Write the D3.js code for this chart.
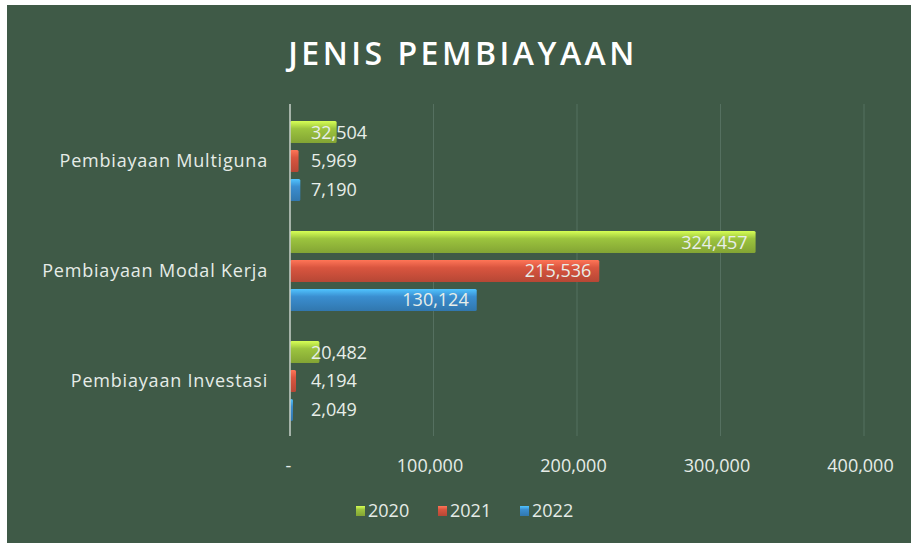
<!DOCTYPE html>
<html>
<head>
<meta charset="utf-8">
<script src="https://cdn.jsdelivr.net/npm/d3@7"></script>
<style>
  body { margin: 0; background: #ffffff; }
  svg text { font-family: "Open Sans", Lato, sans-serif; }
</style>
</head>
<body>
<svg width="911" height="543"></svg>
<script>
var categories = ["Pembiayaan Multiguna", "Pembiayaan Modal Kerja", "Pembiayaan Investasi"];
var years = ["2020", "2021", "2022"];
var values2020 = [32504, 324457, 20482];
var values2021 = [5969, 215536, 4194];
var values2022 = [7190, 130124, 2049];
var xTicks = [0, 100000, 200000, 300000, 400000];
var colors = ["#9cc43e", "#d9553f", "#3a8ed0"];

var svg = d3.select("svg"),
    width = +svg.attr("width"),
    height = +svg.attr("height");

// background panel (photo has a white edge top and left)
svg.append("rect")
    .attr("x", 7).attr("y", 5)
    .attr("width", width - 7).attr("height", height - 5)
    .attr("fill", "#3f5a47");

var defs = svg.append("defs");
colors.forEach(function (c, i) {
    var g = defs.append("linearGradient")
        .attr("id", "grad" + i)
        .attr("x1", 0).attr("y1", 0).attr("x2", 0).attr("y2", 1);
    g.append("stop").attr("offset", "0%").attr("stop-color", d3.color(c).brighter(0.9));
    g.append("stop").attr("offset", "35%").attr("stop-color", c);
    g.append("stop").attr("offset", "100%").attr("stop-color", d3.color(c).darker(0.5));
});

var x = d3.scaleLinear().domain([0, 400000]).range([290, 864]);
var y0 = d3.scaleBand().domain(categories).range([106, 436]).paddingInner(0.21).paddingOuter(0.105);
var y1 = d3.scaleBand().domain(years).range([0, y0.bandwidth()]).paddingInner(0.24).paddingOuter(0.12);

// gridlines
svg.append("g")
    .selectAll("line")
    .data(xTicks.slice(1))
    .enter().append("line")
    .attr("x1", d => x(d)).attr("x2", d => x(d))
    .attr("y1", 104).attr("y2", 436)
    .attr("stroke", "#557060")
    .attr("stroke-width", 1);

// title
svg.append("text")
    .attr("x", 463).attr("y", 65)
    .attr("text-anchor", "middle")
    .attr("fill", "#ffffff")
    .attr("font-size", 32)
    .attr("font-weight", 600)
    .attr("letter-spacing", 3.5)
    .text("JENIS PEMBIAYAAN");

var series = [values2020, values2021, values2022];
var rows = [];
categories.forEach(function (cat, ci) {
    years.forEach(function (yr, yi) {
        rows.push({cat: cat, year: yr, yi: yi, value: series[yi][ci]});
    });
});

var bars = svg.append("g").selectAll("g")
    .data(rows)
    .enter().append("g")
    .attr("transform", d => "translate(0," + (y0(d.cat) + y1(d.year)) + ")");

bars.append("rect")
    .attr("x", x(0))
    .attr("y", 0)
    .attr("width", d => x(d.value) - x(0))
    .attr("height", y1.bandwidth())
    .attr("rx", 1.5)
    .attr("fill", d => "url(#grad" + d.yi + ")");

var fmt = d3.format(",");
bars.append("text")
    .attr("x", d => d.value > 100000 ? x(d.value) - 8 : x(0) + 21)
    .attr("y", y1.bandwidth() / 2)
    .attr("dy", "0.36em")
    .attr("text-anchor", d => d.value > 100000 ? "end" : "start")
    .attr("fill", "#e8eee9")
    .attr("font-size", 18)
    .text(d => fmt(d.value));

// vertical axis line
svg.append("line")
    .attr("x1", x(0)).attr("x2", x(0))
    .attr("y1", 104).attr("y2", 436)
    .attr("stroke", "#c8d2ca")
    .attr("stroke-width", 1.5);

// category labels
svg.append("g").selectAll("text")
    .data(categories)
    .enter().append("text")
    .attr("x", 268)
    .attr("y", d => y0(d) + y0.bandwidth() / 2)
    .attr("dy", "0.36em")
    .attr("text-anchor", "end")
    .attr("fill", "#e6ece7")
    .attr("font-size", 18)
    .attr("letter-spacing", 0.8)
    .text(d => d);

// x axis
var xAxis = d3.axisBottom(x)
    .tickValues(xTicks)
    .tickSize(0)
    .tickFormat(d => d === 0 ? "-" : fmt(d));
var gx = svg.append("g")
    .attr("transform", "translate(0,456)")
    .call(xAxis);
gx.select(".domain").remove();
gx.selectAll("text")
    .attr("fill", "#e6ece7")
    .attr("font-size", 18)
    .attr("font-family", "'Open Sans', Lato, sans-serif")
    .attr("dx", d => d === 0 ? -2 : -4);

// legend
var legend = svg.append("g").selectAll("g")
    .data(years)
    .enter().append("g")
    .attr("transform", (d, i) => "translate(" + (356 + i * 82) + ",511)");
legend.append("rect")
    .attr("x", 0).attr("y", -5)
    .attr("width", 9).attr("height", 10)
    .attr("fill", (d, i) => "url(#grad" + i + ")");
legend.append("text")
    .attr("x", 12).attr("y", 0)
    .attr("dy", "0.36em")
    .attr("fill", "#e6ece7")
    .attr("font-size", 18)
    .text(d => d);
</script>
</body>
</html>
